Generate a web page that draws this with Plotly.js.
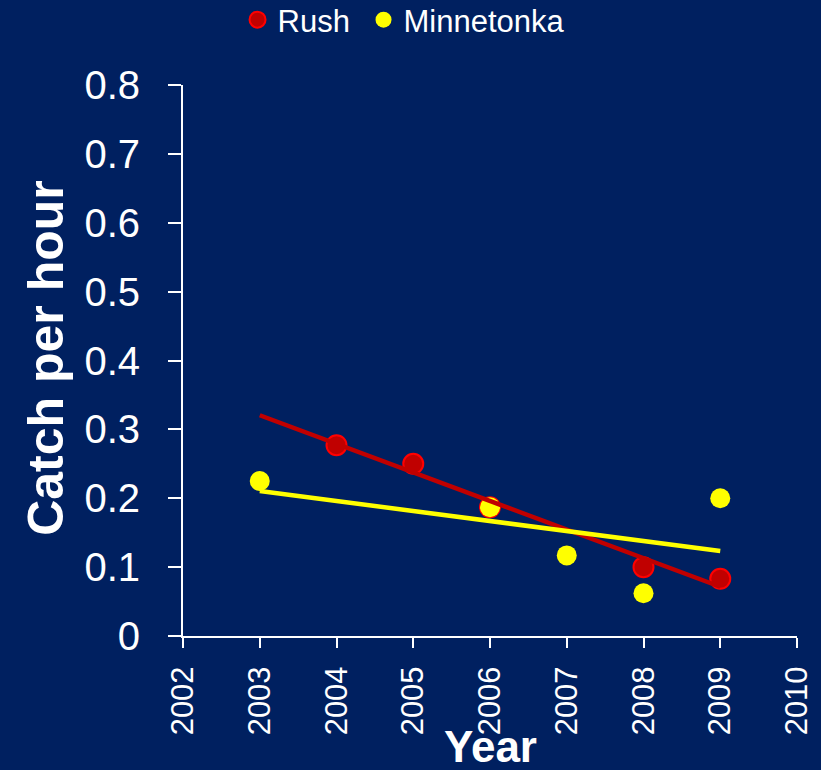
<!DOCTYPE html>
<html>
<head>
<meta charset="utf-8">
<script src="https://cdn.plot.ly/plotly-3.0.1.min.js"></script>
<style>html,body{margin:0;padding:0;background:#002060;}#chart{width:821px;height:770px;}</style>
</head>
<body>
<div id="chart"></div>
<script>
// Data
const rushYears = [2004, 2005, 2006, 2008, 2009];
const rushCatch = [0.277, 0.250, 0.187, 0.100, 0.083];
const minnYears = [2003, 2006, 2007, 2008, 2009];
const minnCatch = [0.225, 0.187, 0.117, 0.062, 0.200];
const trendStart = 2003;
const trendEnd = 2009;
const yTicks = [0, 0.1, 0.2, 0.3, 0.4, 0.5, 0.6, 0.7, 0.8];
const yTickText = ['0', '0.1', '0.2', '0.3', '0.4', '0.5', '0.6', '0.7', '0.8'];
const xTicks = [2002, 2003, 2004, 2005, 2006, 2007, 2008, 2009, 2010];

function linFit(xs, ys) {
  const n = xs.length;
  const mx = xs.reduce((a, b) => a + b, 0) / n;
  const my = ys.reduce((a, b) => a + b, 0) / n;
  let sxy = 0, sxx = 0;
  for (let i = 0; i < n; i++) { sxy += (xs[i] - mx) * (ys[i] - my); sxx += (xs[i] - mx) ** 2; }
  const slope = sxy / sxx;
  return x => my + slope * (x - mx);
}
const rushFit = linFit(rushYears, rushCatch);
const minnFit = linFit(minnYears, minnCatch);
const trendX = [trendStart, trendEnd];

const FONT = 'Liberation Sans, Arial, sans-serif';
const traces = [
  {x: rushYears, y: rushCatch, type: 'scatter', mode: 'markers', name: 'Rush\u00a0',
   marker: {size: 20, color: '#C00000', line: {color: '#FF0000', width: 2}}},
  {x: minnYears, y: minnCatch, type: 'scatter', mode: 'markers', name: 'Minnetonka',
   marker: {size: 20, color: '#FFFF00', line: {color: '#FFFF00', width: 0}}},
  {x: trendX, y: trendX.map(rushFit), type: 'scatter', mode: 'lines', showlegend: false,
   line: {color: '#C00000', width: 4.5}, hoverinfo: 'skip'},
  {x: trendX, y: trendX.map(minnFit), type: 'scatter', mode: 'lines', showlegend: false,
   line: {color: '#FFFF00', width: 4.5}, hoverinfo: 'skip'}
];

const layout = {
  width: 821, height: 770,
  paper_bgcolor: '#002060', plot_bgcolor: '#002060',
  margin: {l: 183, r: 24, t: 85, b: 134, autoexpand: false},
  font: {family: FONT, color: '#FFFFFF'},
  showlegend: true,
  legend: {orientation: 'h', xref: 'paper', x: 0.360, xanchor: 'center',
           yref: 'paper', y: 1.167, yanchor: 'top',
           font: {size: 31, color: '#FFFFFF', family: FONT}, bgcolor: 'rgba(0,0,0,0)',
           itemsizing: 'trace'},
  xaxis: {range: [2002, 2010], tickmode: 'array', tickvals: xTicks, ticktext: xTicks.map(String),
          tickangle: -90, ticks: 'outside', ticklen: 10, tickwidth: 2, tickcolor: '#FFFFFF',
          showline: true, linecolor: '#FFFFFF', linewidth: 2, showgrid: false, zeroline: false,
          automargin: false,
          tickfont: {size: 31, color: '#FFFFFF', family: FONT}, ticklabelstandoff: 6},
  yaxis: {range: [0, 0.8], tickmode: 'array', tickvals: yTicks, ticktext: yTickText,
          ticks: 'outside', ticklen: 13, tickwidth: 2, tickcolor: '#FFFFFF',
          showline: true, linecolor: '#FFFFFF', linewidth: 2, showgrid: false, zeroline: false,
          automargin: false,
          tickfont: {size: 40, color: '#FFFFFF', family: FONT}, ticklabelstandoff: 20},
  annotations: [
    {text: '<b>Catch per hour</b>', xref: 'paper', yref: 'paper', x: -0.223, y: 0.505,
     xanchor: 'center', yanchor: 'middle', textangle: -90, showarrow: false,
     font: {size: 50, color: '#FFFFFF', family: FONT}},
    {text: '<b>Year</b>', xref: 'paper', yref: 'paper', x: 0.5, y: -0.2,
     xanchor: 'center', yanchor: 'middle', showarrow: false,
     font: {size: 44, color: '#FFFFFF', family: FONT}}
  ]
};
Plotly.newPlot('chart', traces, layout, {displayModeBar: false, staticPlot: true});
</script>
</body>
</html>
